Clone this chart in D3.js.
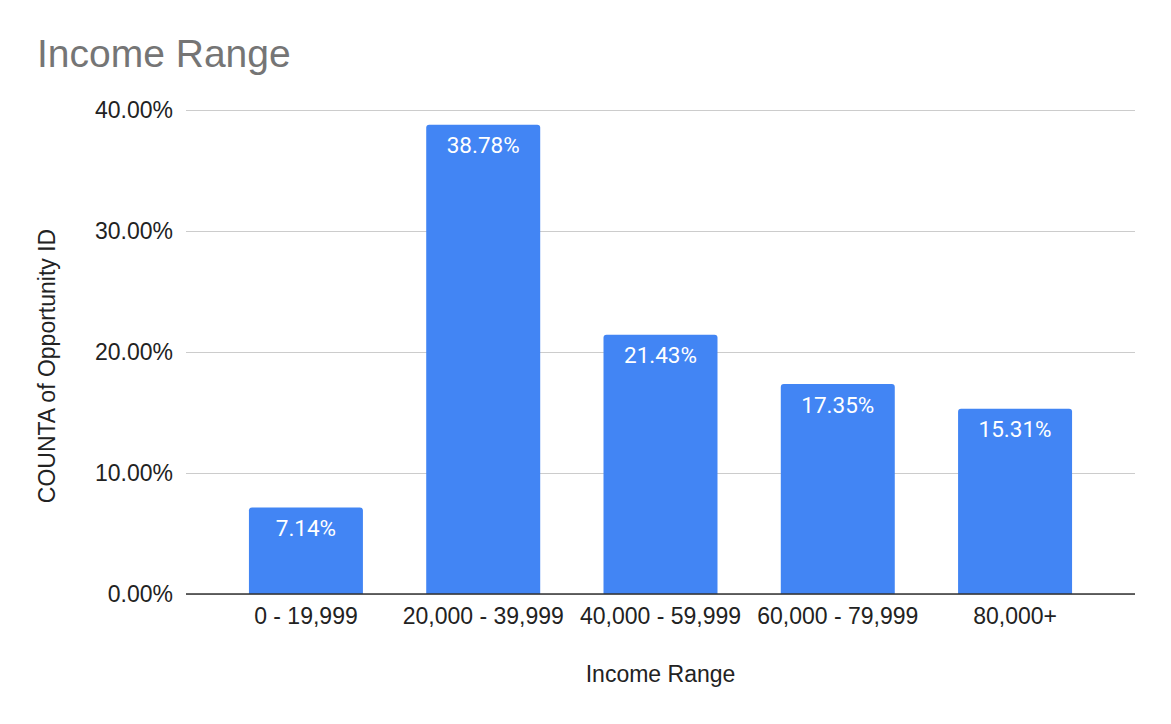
<!DOCTYPE html>
<html><head><meta charset="utf-8">
<script src="https://cdn.jsdelivr.net/npm/d3@7"></script>
<style>body{margin:0;background:#fff}</style>
</head><body>
<svg id="c" width="1171" height="724"></svg>
<script>
const categories = ["0 - 19,999","20,000 - 39,999","40,000 - 59,999","60,000 - 79,999","80,000+"];
const values = [7.14, 38.78, 21.43, 17.35, 15.31];
const yTicks = [0, 10, 20, 30, 40];

const svg = d3.select("#c");
const pLeft = 186, pRight = 1135, pTop = 110, pBottom = 594;
const x = d3.scaleBand().domain(categories).range([pLeft, pRight]).paddingInner(0.357).paddingOuter(0.355);
const y = d3.scaleLinear().domain([0, 40]).range([pBottom, pTop]);
const F = "Liberation Sans, Arial, sans-serif";
const FS = 23;

svg.append("rect").attr("width",1171).attr("height",724).attr("fill","#fff");
svg.append("text").attr("x",37).attr("y",67).attr("font-family",F)
  .attr("font-size",39).attr("fill","#757575").text("Income Range");

const ga = svg.append("g").attr("transform",`translate(${pLeft},0)`)
  .call(d3.axisLeft(y).tickValues(yTicks).tickSize(-(pRight-pLeft)).tickPadding(13).tickFormat(d=>d.toFixed(2)+"%"));
ga.select(".domain").remove();
ga.selectAll(".tick line").attr("stroke","#cccccc").attr("stroke-width",1);
ga.selectAll(".tick text").attr("font-family",F).attr("font-size",FS).attr("fill","#222");

const r = 3;
svg.append("g").selectAll("path").data(values).join("path")
  .attr("fill","#4285F4")
  .attr("d",(d,i)=>{
    const x0 = x(categories[i]), w = x.bandwidth(), y0 = y(d), y1 = y(0);
    return `M${x0},${y1}V${y0+r}Q${x0},${y0} ${x0+r},${y0}H${x0+w-r}Q${x0+w},${y0} ${x0+w},${y0+r}V${y1}Z`;
  });

svg.append("g").selectAll("text").data(values).join("text")
  .attr("x",(d,i)=>x(categories[i])+x.bandwidth()/2)
  .attr("y",d=>y(d)+28.5)
  .attr("text-anchor","middle").attr("font-family","Roboto, sans-serif").attr("font-size",22.5).attr("fill","#fff")
  .text(d=>d.toFixed(2)+"%");

svg.append("line").attr("x1",pLeft).attr("x2",pRight).attr("y1",y(0)).attr("y2",y(0)).attr("stroke","#333").attr("stroke-width",1.5);

const gx = svg.append("g").attr("transform",`translate(0,${pBottom})`).call(d3.axisBottom(x).tickSize(0).tickPadding(14));
gx.select(".domain").remove();
gx.selectAll(".tick text").attr("font-family",F).attr("font-size",FS).attr("fill","#222");

svg.append("text").attr("x",(pLeft+pRight)/2).attr("y",682).attr("text-anchor","middle")
  .attr("font-family",F).attr("font-size",FS).attr("fill","#222").text("Income Range");
svg.append("text").attr("transform",`translate(55,366) rotate(-90)`).attr("text-anchor","middle")
  .attr("font-family",F).attr("font-size",FS).attr("fill","#222").text("COUNTA of Opportunity ID");
</script>
</body></html>
